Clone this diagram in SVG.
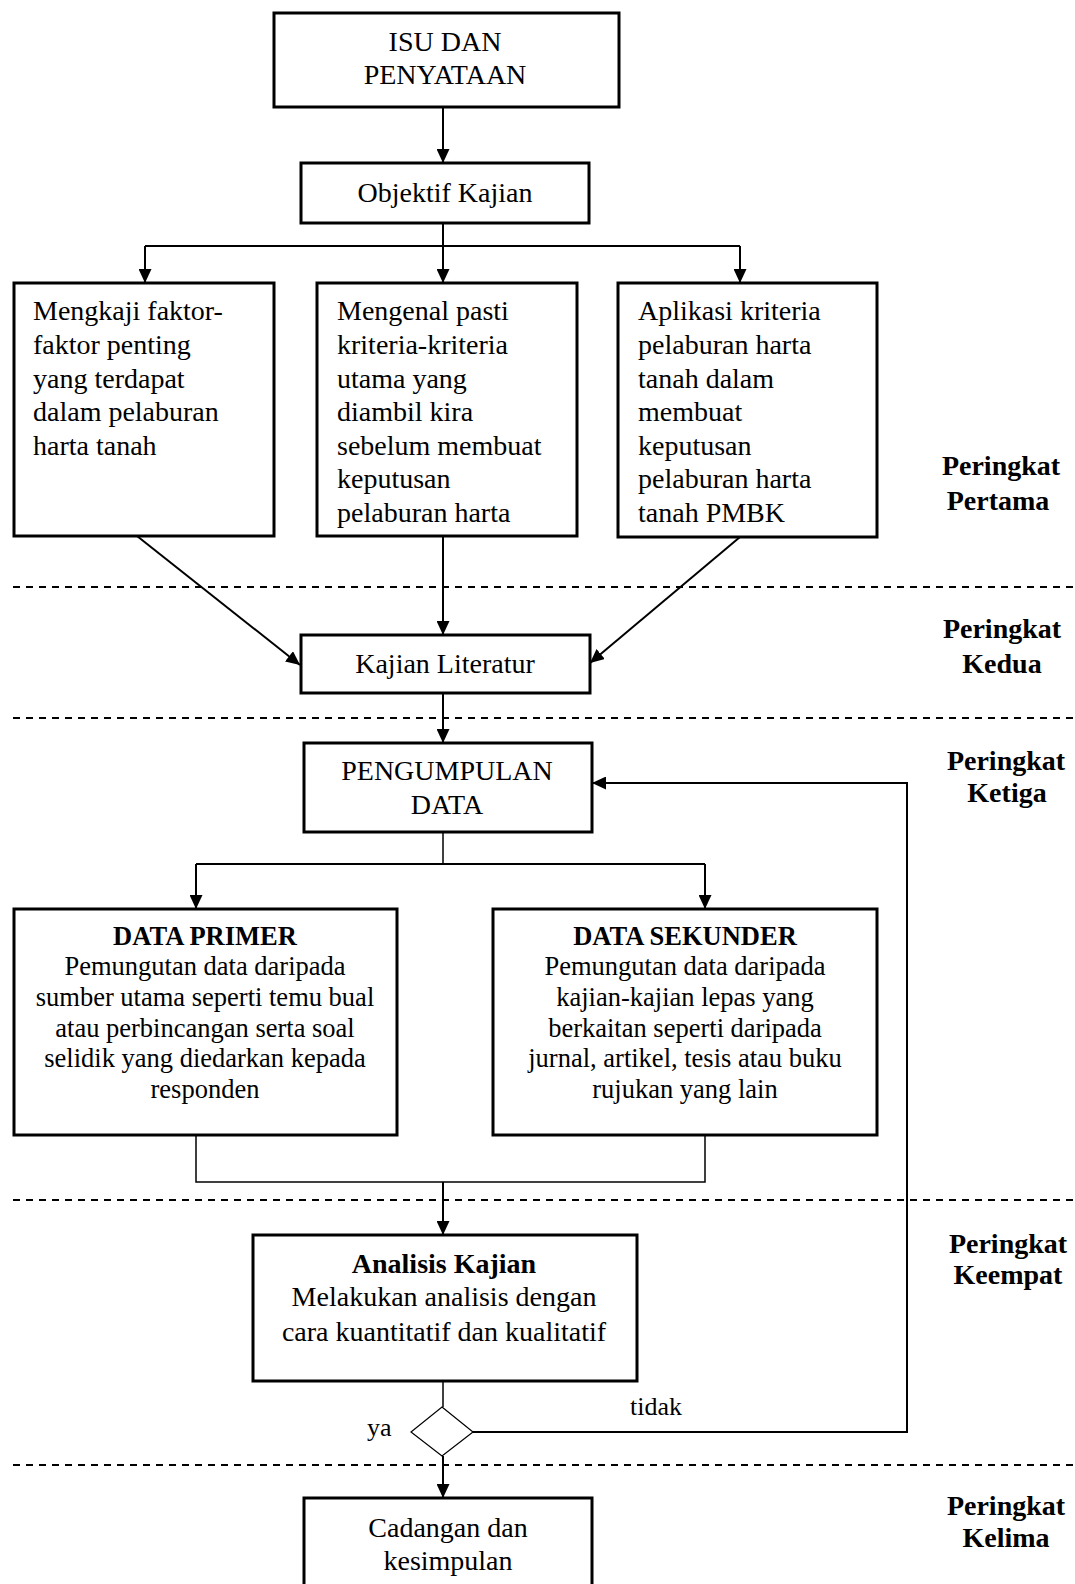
<svg xmlns="http://www.w3.org/2000/svg" width="1075" height="1584" viewBox="0 0 1075 1584">
<style>
.box{fill:#fff;stroke:#000;stroke-width:3}
.t{font-family:"Liberation Serif","Times New Roman",serif;font-size:28px;fill:#000}
.c{text-anchor:middle}
.s{font-size:26.5px}
.b{font-weight:bold}
.lbl{font-family:"Liberation Serif","Times New Roman",serif;font-size:28px;font-weight:bold;text-anchor:middle;fill:#000}
.ln{fill:none;stroke:#000;stroke-width:2}
.thin{fill:none;stroke:#000;stroke-width:1.5}
.dash{fill:none;stroke:#000;stroke-width:2;stroke-dasharray:7 6}
</style>
<defs>
<marker id="ah" viewBox="0 0 14 13" refX="14" refY="6.5" markerWidth="14" markerHeight="13" markerUnits="userSpaceOnUse" orient="auto">
<path d="M0,0 L14,6.5 L0,13 z" fill="#000"/>
</marker>
</defs>
<rect width="1075" height="1584" fill="#fff"/>

<g id="levels">
<line class="dash" x1="13" y1="587" x2="1075" y2="587"/>
<line class="dash" x1="13" y1="718" x2="1075" y2="718"/>
<line class="dash" x1="13" y1="1200" x2="1075" y2="1200"/>
<line class="dash" x1="13" y1="1465" x2="1075" y2="1465"/>
<text class="lbl" x="1001" y="475">Peringkat</text>
<text class="lbl" x="998" y="510">Pertama</text>
<text class="lbl" x="1002" y="638">Peringkat</text>
<text class="lbl" x="1002" y="673">Kedua</text>
<text class="lbl" x="1006" y="770">Peringkat</text>
<text class="lbl" x="1007" y="802">Ketiga</text>
<text class="lbl" x="1008" y="1253">Peringkat</text>
<text class="lbl" x="1008" y="1284">Keempat</text>
<text class="lbl" x="1006" y="1515">Peringkat</text>
<text class="lbl" x="1006" y="1547">Kelima</text>
</g>

<g id="connectors">
<line class="ln" x1="443" y1="107" x2="443" y2="163" marker-end="url(#ah)"/>
<line class="ln" x1="443" y1="223" x2="443" y2="246"/>
<line class="ln" x1="145" y1="246" x2="740" y2="246"/>
<line class="ln" x1="145" y1="246" x2="145" y2="283" marker-end="url(#ah)"/>
<line class="ln" x1="443" y1="246" x2="443" y2="283" marker-end="url(#ah)"/>
<line class="ln" x1="740" y1="246" x2="740" y2="283" marker-end="url(#ah)"/>
<line class="ln" x1="137" y1="536" x2="300" y2="665" marker-end="url(#ah)"/>
<line class="ln" x1="443" y1="536" x2="443" y2="635" marker-end="url(#ah)"/>
<line class="ln" x1="740" y1="537" x2="590" y2="663" marker-end="url(#ah)"/>
<line class="ln" x1="443" y1="693" x2="443" y2="743" marker-end="url(#ah)"/>
<line class="thin" x1="443" y1="832" x2="443" y2="864"/>
<line class="ln" x1="196" y1="864" x2="705" y2="864"/>
<line class="ln" x1="196" y1="864" x2="196" y2="909" marker-end="url(#ah)"/>
<line class="ln" x1="705" y1="864" x2="705" y2="909" marker-end="url(#ah)"/>
<polyline class="thin" points="196,1135 196,1182 705,1182 705,1135"/>
<line class="ln" x1="443" y1="1182" x2="443" y2="1235" marker-end="url(#ah)"/>
<line class="thin" x1="443" y1="1381" x2="443" y2="1407"/>
<polyline class="ln" points="473,1432 907,1432 907,783 592,783" marker-end="url(#ah)"/>
<line class="ln" x1="443" y1="1456" x2="443" y2="1498" marker-end="url(#ah)"/>
<text class="t" x="630" y="1415" style="font-size:26px">tidak</text>
<text class="t" x="367" y="1436" style="font-size:26px">ya</text>
</g>

<g id="isu">
<rect class="box" x="274" y="13" width="345" height="94"/>
<text class="t c" x="445" y="51">ISU DAN</text>
<text class="t c" x="445" y="84">PENYATAAN</text>
</g>

<g id="objektif">
<rect class="box" x="301" y="163" width="288" height="60"/>
<text class="t c" x="445" y="202">Objektif Kajian</text>
</g>

<g id="objektif1">
<rect class="box" x="14" y="283" width="260" height="253"/>
<text class="t" x="33" y="320">Mengkaji faktor-</text>
<text class="t" x="33" y="354">faktor penting</text>
<text class="t" x="33" y="388">yang terdapat</text>
<text class="t" x="33" y="421">dalam pelaburan</text>
<text class="t" x="33" y="455">harta tanah</text>
</g>

<g id="objektif2">
<rect class="box" x="317" y="283" width="260" height="253"/>
<text class="t" x="337" y="320">Mengenal pasti</text>
<text class="t" x="337" y="354">kriteria-kriteria</text>
<text class="t" x="337" y="388">utama yang</text>
<text class="t" x="337" y="421">diambil kira</text>
<text class="t" x="337" y="455">sebelum membuat</text>
<text class="t" x="337" y="488">keputusan</text>
<text class="t" x="337" y="522">pelaburan harta</text>
</g>

<g id="objektif3">
<rect class="box" x="618" y="283" width="259" height="254"/>
<text class="t" x="638" y="320">Aplikasi kriteria</text>
<text class="t" x="638" y="354">pelaburan harta</text>
<text class="t" x="638" y="388">tanah dalam</text>
<text class="t" x="638" y="421">membuat</text>
<text class="t" x="638" y="455">keputusan</text>
<text class="t" x="638" y="488">pelaburan harta</text>
<text class="t" x="638" y="522">tanah PMBK</text>
</g>

<g id="kajian-literatur">
<rect class="box" x="301" y="635" width="289" height="58"/>
<text class="t c" x="445" y="673">Kajian Literatur</text>
</g>

<g id="pengumpulan">
<rect class="box" x="304" y="743" width="288" height="89"/>
<text class="t c" x="447" y="780">PENGUMPULAN</text>
<text class="t c" x="447" y="814">DATA</text>
</g>

<g id="data-primer">
<rect class="box" x="14" y="909" width="383" height="226"/>
<text class="t c s b" x="205" y="945">DATA PRIMER</text>
<text class="t c s" x="205" y="975">Pemungutan data daripada</text>
<text class="t c s" x="205" y="1006">sumber utama seperti temu bual</text>
<text class="t c s" x="205" y="1037">atau perbincangan serta soal</text>
<text class="t c s" x="205" y="1067">selidik yang diedarkan kepada</text>
<text class="t c s" x="205" y="1098">responden</text>
</g>

<g id="data-sekunder">
<rect class="box" x="493" y="909" width="384" height="226"/>
<text class="t c s b" x="685" y="945">DATA SEKUNDER</text>
<text class="t c s" x="685" y="975">Pemungutan data daripada</text>
<text class="t c s" x="685" y="1006">kajian-kajian lepas yang</text>
<text class="t c s" x="685" y="1037">berkaitan seperti daripada</text>
<text class="t c s" x="685" y="1067">jurnal, artikel, tesis atau buku</text>
<text class="t c s" x="685" y="1098">rujukan yang lain</text>
</g>

<g id="analisis">
<rect class="box" x="253" y="1235" width="384" height="146"/>
<text class="t c b" x="444" y="1273">Analisis Kajian</text>
<text class="t c" x="444" y="1306">Melakukan analisis dengan</text>
<text class="t c" x="444" y="1341">cara kuantitatif dan kualitatif</text>
</g>

<g id="keputusan">
<polygon points="442,1407 473,1432 442,1456 411,1432" fill="#fff" stroke="#000" stroke-width="1.2"/>
</g>

<g id="cadangan">
<rect class="box" x="304" y="1498" width="288" height="120"/>
<text class="t c" x="448" y="1537">Cadangan dan</text>
<text class="t c" x="448" y="1570">kesimpulan</text>
</g>
</svg>
